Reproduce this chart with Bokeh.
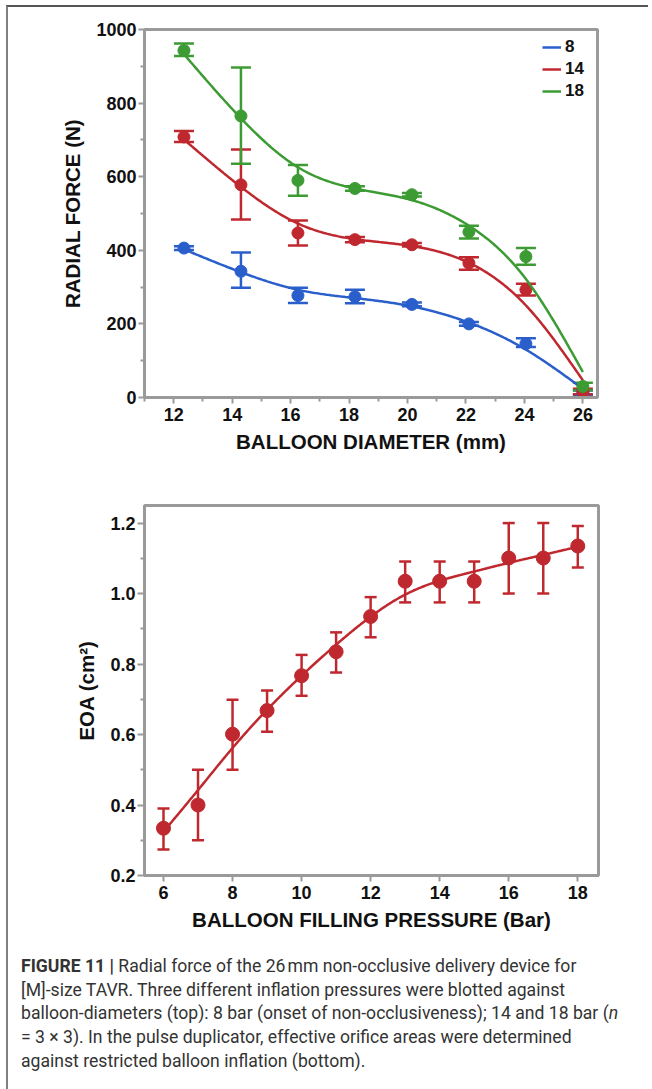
import numpy as np
from bokeh.plotting import figure
from bokeh.models import (ColumnDataSource, Whisker, TeeHead, Legend, LegendItem,
                          Div, FixedTicker, Range1d, NumeralTickFormatter)
from bokeh.layouts import column
from bokeh.embed import file_html
from bokeh.resources import INLINE

# ---------------- data: top chart (radial force) ----------------
diameters = [12.35, 14.3, 16.25, 18.2, 20.15, 22.1, 24.05, 26.0]
force_8 = [406, 343, 277, 274, 253, 200, 146, 12]
force_8_lo = [401, 298, 257, 256, 248, 195, 137, 6]
force_8_hi = [411, 394, 298, 293, 258, 205, 161, 19]
force_14 = [708, 578, 447, 429, 415, 365, 293, 16]
force_14_lo = [694, 484, 413, 422, 410, 347, 277, 9]
force_14_hi = [724, 674, 481, 436, 420, 381, 309, 24]
force_18 = [943, 765, 590, 568, 551, 450, 383, 30]
force_18_lo = [928, 635, 548, 562, 546, 432, 361, 20]
force_18_hi = [962, 897, 632, 574, 556, 467, 406, 40]
pressure_labels = ["8", "14", "18"]

# ---------------- data: bottom chart (EOA) ----------------
fill_pressure = [6, 7, 8, 9, 10, 11, 12, 13, 14, 15, 16, 17, 18]
eoa = [0.334, 0.400, 0.601, 0.668, 0.767, 0.835, 0.935, 1.035, 1.035, 1.035, 1.101, 1.101, 1.135]
eoa_lo = [0.274, 0.300, 0.500, 0.608, 0.710, 0.776, 0.876, 0.975, 0.975, 0.975, 1.000, 1.000, 1.074]
eoa_hi = [0.390, 0.500, 0.699, 0.725, 0.826, 0.890, 0.990, 1.091, 1.091, 1.091, 1.200, 1.200, 1.192]

BLUE = "#2a5fcb"
RED = "#bf282e"
GREEN = "#3c9b33"
FRAME = "#9a9a9a"
FONT = "Liberation Sans"


def style_axes(p):
    p.outline_line_color = FRAME
    p.outline_line_width = 3
    p.xgrid.visible = False
    p.ygrid.visible = False
    for ax in (p.xaxis[0], p.yaxis[0]):
        ax.axis_line_color = FRAME
        ax.axis_line_width = 3
        ax.major_tick_line_color = FRAME
        ax.minor_tick_line_color = FRAME
        ax.major_tick_line_width = 2
        ax.minor_tick_line_width = 2
        ax.major_tick_in = 0
        ax.major_tick_out = 6
        ax.minor_tick_in = 0
        ax.minor_tick_out = 4
        ax.major_label_text_font = FONT
        ax.major_label_text_font_style = "bold"
        ax.major_label_text_font_size = "18px"
        ax.major_label_text_color = "#111111"
        ax.axis_label_text_font = FONT
        ax.axis_label_text_font_style = "bold"
        ax.axis_label_text_font_size = "20.5px"
        ax.axis_label_text_color = "#111111"
    p.xaxis[0].major_label_standoff = 4
    p.yaxis[0].major_label_standoff = 2
    p.xaxis[0].axis_label_standoff = 6
    p.yaxis[0].axis_label_standoff = 9


def smooth_spline(x, y, lam, n=300):
    """Cubic smoothing spline (Reinsch) fitted to the data points."""
    x = np.asarray(x, float)
    y = np.asarray(y, float)
    N = len(x)
    h = np.diff(x)
    Q = np.zeros((N, N - 2))
    R = np.zeros((N - 2, N - 2))
    for j in range(1, N - 1):
        Q[j - 1, j - 1] = 1 / h[j - 1]
        Q[j, j - 1] = -1 / h[j - 1] - 1 / h[j]
        Q[j + 1, j - 1] = 1 / h[j]
        R[j - 1, j - 1] = (h[j - 1] + h[j]) / 3
        if j < N - 2:
            R[j - 1, j] = R[j, j - 1] = h[j] / 6
    K = Q @ np.linalg.solve(R, Q.T)
    g = np.linalg.solve(np.eye(N) + lam * K, y)
    gam = np.zeros(N)
    gam[1:-1] = np.linalg.solve(R, Q.T @ g)
    xs = np.linspace(x[0], x[-1], n)
    i = np.clip(np.searchsorted(x, xs) - 1, 0, N - 2)
    hi = h[i]
    a = xs - x[i]
    b = x[i + 1] - xs
    f = (a * g[i + 1] + b * g[i]) / hi - a * b / 6 * ((1 + a / hi) * gam[i + 1] + (1 + b / hi) * gam[i])
    return xs, f


# ---------------- top figure ----------------
p1 = figure(width=619, height=460, min_border_left=136, min_border_right=30,
            min_border_top=22, min_border_bottom=70,
            x_range=Range1d(11, 26.5), y_range=Range1d(0, 1000),
            output_backend="svg", toolbar_location=None)
p1.xaxis.ticker = FixedTicker(ticks=list(range(12, 27, 2)), minor_ticks=list(range(11, 26, 2)))
p1.yaxis.ticker = FixedTicker(ticks=list(range(0, 1001, 200)), minor_ticks=list(range(100, 1000, 200)))
p1.xaxis.axis_label = "BALLOON DIAMETER (mm)"
p1.yaxis.axis_label = "RADIAL FORCE (N)"
style_axes(p1)

items = []
for lab, ys, lo, hi, col in [(pressure_labels[0], force_8, force_8_lo, force_8_hi, BLUE),
                             (pressure_labels[1], force_14, force_14_lo, force_14_hi, RED),
                             (pressure_labels[2], force_18, force_18_lo, force_18_hi, GREEN)]:
    xs, yf = smooth_spline(diameters, ys, 2.0)
    r = p1.line(xs, yf, line_color=col, line_width=2.5)
    src = ColumnDataSource(dict(x=diameters, y=ys, lo=lo, hi=hi))
    p1.add_layout(Whisker(source=src, base="x", lower="lo", upper="hi",
                          line_color=col, line_width=2.5,
                          upper_head=TeeHead(size=20, line_color=col, line_width=2.5),
                          lower_head=TeeHead(size=20, line_color=col, line_width=2.5)))
    p1.scatter("x", "y", source=src, size=12, fill_color=col, line_color=col)
    items.append(LegendItem(label=lab, renderers=[r]))

leg = Legend(items=items, location=(398, 296), padding=0, margin=0, spacing=2,
             glyph_width=19, glyph_height=20, label_height=20, label_standoff=4,
             label_text_font=FONT, label_text_font_style="bold",
             label_text_font_size="17px", label_text_color="#111111",
             border_line_color=None, background_fill_alpha=0)
p1.add_layout(leg)

# ---------------- bottom figure ----------------
p2 = figure(width=620, height=473, min_border_left=130, min_border_right=30,
            min_border_top=38, min_border_bottom=65,
            x_range=Range1d(5.45, 18.6), y_range=Range1d(0.2, 1.25),
            output_backend="svg", toolbar_location=None)
p2.xaxis.ticker = FixedTicker(ticks=list(range(6, 19, 2)), minor_ticks=[])
p2.yaxis.ticker = FixedTicker(ticks=[0.2, 0.4, 0.6, 0.8, 1.0, 1.2],
                              minor_ticks=[0.3, 0.5, 0.7, 0.9, 1.1])
p2.yaxis.formatter = NumeralTickFormatter(format="0.0")
p2.xaxis.axis_label = "BALLOON FILLING PRESSURE (Bar)"
p2.yaxis.axis_label = "EOA (cm²)"
style_axes(p2)
p2.yaxis[0].major_tick_out = 7

xs2, yf2 = smooth_spline(fill_pressure, eoa, 1.5)
p2.line(xs2, yf2, line_color=RED, line_width=2.5)
src2 = ColumnDataSource(dict(x=fill_pressure, y=eoa, lo=eoa_lo, hi=eoa_hi))
p2.add_layout(Whisker(source=src2, base="x", lower="lo", upper="hi",
                      line_color=RED, line_width=2.5,
                      upper_head=TeeHead(size=12, line_color=RED, line_width=2.5),
                      lower_head=TeeHead(size=12, line_color=RED, line_width=2.5)))
p2.scatter("x", "y", source=src2, size=14, fill_color=RED, line_color=RED)

# ---------------- caption ----------------
caption_html = (
    '<div style="font-family: Roboto, \'Liberation Sans\', sans-serif; font-size: 17.6px; '
    'line-height: 23.7px; color: #333333; white-space: nowrap; padding: 10px 0 0 8px;">'
    '<b>FIGURE 11 |</b> Radial force of the 26&#8239;mm non-occlusive delivery device for<br>'
    '[M]-size TAVR. Three different inflation pressures were blotted against<br>'
    'balloon-diameters (top): 8 bar (onset of non-occlusiveness); 14 and 18 bar (<i>n</i><br>'
    '= 3 &times; 3). In the pulse duplicator, effective orifice areas were determined<br>'
    'against restricted balloon inflation (bottom).'
    '</div>'
)
caption = Div(text=caption_html, width=630, height=145)

layout = column(p1, p2, caption, spacing=0, margin=(5, 0, 0, 6),
                styles={"border-top": "2px solid #555555",
                        "border-left": "2px solid #808080"})

open("out.html", "w").write(file_html(layout, INLINE))
